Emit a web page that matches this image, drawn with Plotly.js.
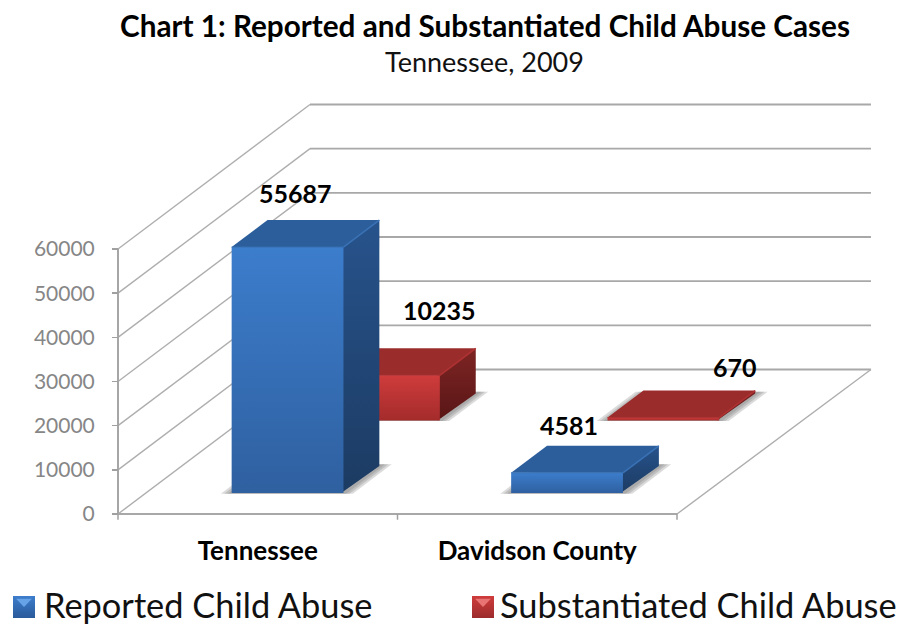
<!DOCTYPE html>
<html>
<head>
<meta charset="utf-8">
<script src="https://cdn.plot.ly/plotly-3.0.1.min.js"></script>
<style>html,body{margin:0;padding:0;background:#fff}</style>
</head>
<body>
<div id="chart" style="width:903px;height:625px"></div>
<script>
// Reported and substantiated child abuse cases, Tennessee 2009
const categories = ['Tennessee', 'Davidson County'];
const reported = [55687, 4581];
const substantiated = [10235, 670];
const seriesNames = ['Reported Child Abuse', 'Substantiated Child Abuse'];
const valueTicks = [0, 10000, 20000, 30000, 40000, 50000, 60000];

// The subplot fills the page so the oblique walls, ticks and legend keys are all in range.
// Depth 0 is the front of the floor, depth 1 is the back wall.
const W = 903, H = 625;
const left = 118, baseline = 514;
const catPx = 279.5, pxPerUnit = 265 / 60000;
const depthX = 192 / catPx, depthY = 144.5 / pxPerUnit;
const px = (c, v, d) => [c + d * depthX, v + d * depthY];
const fromPixels = (x, y) => [(x - left) / catPx, (baseline - y) / pxPerUnit];

// Bar placement within a category, expressed in category widths and floor depth
const barLeft = 0.307, barW = 0.4, barDepth = 0.187;
const rowFront = {blue: 0.145, red: 0.647};
const wallEnd = 2.007;

const palette = {
  blue: {front: ['#3c7dcc', '#2f60a0'], top: '#2c5e9b', side: ['#27538c', '#1c3b62'], edge: '#3a72b6', key: ['#3d7dcc', '#2a5a9a', '#66a3e6']},
  red: {front: ['#cf3c3c', '#a42b2b'], top: '#9b2c2c', side: ['#7e2424', '#591616'], edge: '#b03232', key: ['#cf3c3c', '#9c2b2b', '#e87474']}
};

function lines(segments, color, width) {
  const x = [], y = [];
  segments.forEach(s => {
    s.forEach(p => { x.push(p[0]); y.push(p[1]); });
    x.push(null); y.push(null);
  });
  return {type: 'scatter', mode: 'lines', x, y, showlegend: false, hoverinfo: 'skip',
          line: {color, width}};
}

function poly(points, fill) {
  const t = {type: 'scatter', mode: 'lines', x: points.map(p => p[0]), y: points.map(p => p[1]),
             fill: 'toself', line: {width: 0}, showlegend: false, hoverinfo: 'skip'};
  if (Array.isArray(fill)) {
    t.fillcolor = fill[0];
    t.fillgradient = {type: 'vertical', colorscale: [[0, fill[1]], [1, fill[0]]]};
  } else {
    t.fillcolor = fill;
  }
  return t;
}

// Soft floor shadow under one bar, built from stacked translucent footprints
function shadow(c, d0) {
  return [0.036, 0.024, 0.012].map(e => poly([
    px(c - e, 0, d0 - 0.004), px(c + barW + e, 0, d0 - 0.004),
    px(c + barW + e, 0, d0 + barDepth + 0.012), px(c - e, 0, d0 + barDepth + 0.012),
    px(c - e, 0, d0 - 0.004)
  ], 'rgba(105,105,105,0.24)'));
}

// Side, top and front faces of one bar; the side tucks under the front to hide the seam
function bar(c, v, d0, pal) {
  const d1 = d0 + barDepth, c1 = c + barW, tuck = 0.008;
  return [
    poly([px(c1 - tuck, 0, d0), px(c1, 0, d1), px(c1, v, d1), px(c1 - tuck, v, d0), px(c1 - tuck, 0, d0)], pal.side),
    poly([px(c, v, d0), px(c1, v, d0), px(c1, v, d1), px(c, v, d1), px(c, v, d0)], pal.top),
    poly([px(c, 0, d0), px(c1, 0, d0), px(c1, v, d0), px(c, v, d0), px(c, 0, d0)], pal.front),
    lines([[px(c1, v, d0), px(c1, v, d1)]], pal.edge, 1.5),
    lines([[px(c, v, d0), px(c1, v, d0)]], pal.edge, 1)
  ];
}

// Bevelled square legend key
function legendKey(x0, y0, size, pal) {
  const corner = (dx, dy) => fromPixels(x0 + dx * size, y0 + dy * size);
  return [
    poly([corner(0, 0), corner(1, 0), corner(1, 1), corner(0, 1), corner(0, 0)], [pal.key[0], pal.key[1]]),
    poly([corner(0.14, 0.12), corner(0.86, 0.12), corner(0.5, 0.5), corner(0.14, 0.12)], pal.key[2])
  ];
}

const traces = [];

// Back wall, side wall and floor lines
const wallLines = valueTicks.map(v => [px(0, v, 1), px(wallEnd, v, 1)]);
const sideLines = valueTicks.map(v => [px(0, v, 0), px(0, v, 1)]);
traces.push(lines(sideLines, '#aeaeae', 1.4));
traces.push(lines(wallLines, '#a8a8a8', 1.8));
traces.push(lines([[px(2, 0, 0), px(wallEnd, 0, 1)]], '#aeaeae', 1.4));
traces.push(lines([[px(0, 0, 0), px(0, valueTicks[valueTicks.length - 1], 0)]], '#a6a6a6', 2));
traces.push(lines([[px(0, 0, 0), px(2, 0, 0)]], '#a8a8a8', 2));
traces.push(lines([0, 1, 2].map(c => [[c, 0], [c, -1300]]), '#a0a0a0', 1.5));

// Bars are drawn from the back row to the front row
substantiated.forEach((v, i) => {
  traces.push(...shadow(i + barLeft, rowFront.red));
  traces.push(...bar(i + barLeft, v, rowFront.red, palette.red));
});
reported.forEach((v, i) => {
  traces.push(...shadow(i + barLeft, rowFront.blue));
  traces.push(...bar(i + barLeft, v, rowFront.blue, palette.blue));
});

// Legend keys
traces.push(...legendKey(13, 596, 22, palette.blue));
traces.push(...legendKey(472, 596, 22, palette.red));

// Value labels sit above each bar's top face, nudged clear of it
const labelNudge = {blue: [[-10, 41], [-16, 34]], red: [[38, 52], [54, 37]]};
const valueLabel = (v, i, k) => {
  const p = px(i + barLeft + barW / 2, v, rowFront[k] + barDepth / 2);
  return {x: p[0], y: p[1], text: '<b>' + v + '</b>', showarrow: false,
          xshift: labelNudge[k][i][0], yshift: labelNudge[k][i][1],
          font: {family: 'Lato', size: 25, color: '#000'}};
};

const legendLabel = (name, x) => ({
  xref: 'paper', yref: 'paper', x: x / W, y: 1 - 604 / H, text: name, showarrow: false,
  xanchor: 'left', yanchor: 'middle', font: {family: 'Lato', size: 34.4, color: '#111'}
});

const layout = {
  width: W, height: H, autosize: false,
  paper_bgcolor: '#fff', plot_bgcolor: 'rgba(0,0,0,0)',
  margin: {l: 0, r: 0, t: 0, b: 0},
  font: {family: 'Lato'},
  title: {text: '<b>Chart 1: Reported and Substantiated Child Abuse Cases</b>',
          x: 485 / W, xanchor: 'center', xref: 'container',
          y: 1 - 27 / H, yanchor: 'middle', yref: 'container',
          font: {family: 'Lato', size: 29.7, color: '#000'}},
  showlegend: false,
  xaxis: {domain: [0, 1], range: [-left / catPx, (W - left) / catPx],
          anchor: 'free', position: 1 - baseline / H,
          showgrid: false, zeroline: false, showline: false, fixedrange: true, automargin: false,
          tickmode: 'array', tickvals: [0.5, 1.5], ticktext: categories,
          ticks: 'outside', ticklen: 14, tickcolor: 'rgba(0,0,0,0)',
          tickfont: {family: 'Lato', size: 26, color: '#000', weight: 'bold'}},
  yaxis: {domain: [0, 1], range: [(baseline - H) / pxPerUnit, baseline / pxPerUnit],
          anchor: 'free', position: left / W,
          showgrid: false, zeroline: false, showline: false, fixedrange: true, automargin: false,
          tickmode: 'array', tickvals: valueTicks, ticktext: valueTicks.map(String),
          ticks: 'outside', ticklen: 6, tickcolor: '#a0a0a0', tickwidth: 1.5, ticklabelstandoff: 13,
          tickfont: {family: 'Lato', size: 21, color: '#868686'}},
  annotations: [
    {xref: 'paper', yref: 'paper', x: 484 / W, y: 1 - 62 / H,
     text: 'Tennessee, 2009', showarrow: false, xanchor: 'center', yanchor: 'middle',
     font: {family: 'Lato', size: 27, color: '#111'}},
    legendLabel(seriesNames[0], 42),
    legendLabel(seriesNames[1], 498),
    ...reported.map((v, i) => valueLabel(v, i, 'blue')),
    ...substantiated.map((v, i) => valueLabel(v, i, 'red'))
  ]
};

Plotly.newPlot('chart', traces, layout, {displayModeBar: false, staticPlot: true});
</script>
</body>
</html>
